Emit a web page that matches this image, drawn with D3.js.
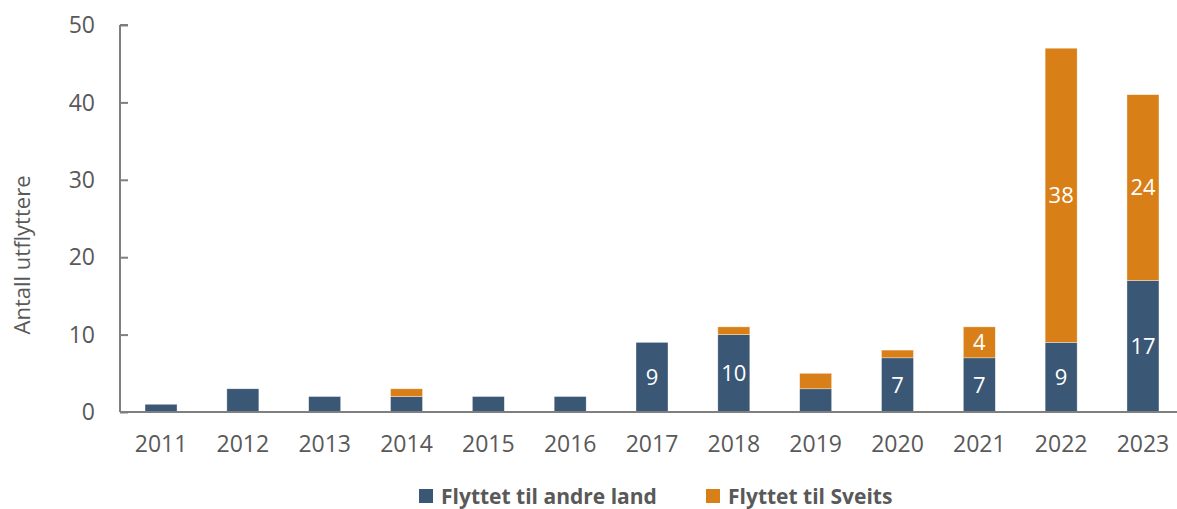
<!DOCTYPE html>
<html>
<head>
<meta charset="utf-8">
<script src="https://cdn.jsdelivr.net/npm/d3@7"></script>
<style>
  body { margin: 0; background: #fff; }
  #chartArea { width: 1177px; height: 509px; }
  text { font-family: "Open Sans", sans-serif; }
</style>
</head>
<body>
<div id="chartArea"></div>
<script>
// data
var years = ['2011','2012','2013','2014','2015','2016','2017','2018','2019','2020','2021','2022','2023'];
var andreLand = [1, 3, 2, 2, 2, 2, 9, 10, 3, 7, 7, 9, 17];
var sveits = [0, 0, 0, 1, 0, 0, 0, 1, 2, 1, 4, 38, 24];
var seriesNames = ['Flyttet til andre land', 'Flyttet til Sveits'];
var yTicks = [0, 10, 20, 30, 40, 50];

function chartStacked() {
    var width = 1177, height = 509;
    var margin = {top: 25, right: -7, bottom: 97, left: 120};
    var colors = ['#3a5775', '#d97f18'];
    var axisColor = '#7f7f7f';
    var textColor = '#595959';

    var svg = d3.select('#chartArea').append('svg')
        .attr('width', width)
        .attr('height', height);

    var xscale = d3.scaleBand().domain(years)
        .range([margin.left, width - margin.right])
        .paddingInner(0.609)
        .paddingOuter(0.306);
    var yscale = d3.scaleLinear().domain([0, 50]).range([height - margin.bottom, margin.top]);

    var rows = years.map(function(y, i) {
        return {year: y, andre: andreLand[i], sveits: sveits[i]};
    });
    var stack = d3.stack().keys(['andre', 'sveits'])(rows);

    // bars
    var layers = svg.append('g').selectAll('g').data(stack).enter().append('g')
        .attr('fill', function(d, i) { return colors[i]; });
    layers.selectAll('rect').data(function(d) { return d; }).enter()
        .filter(function(d) { return d[1] - d[0] > 0; })
        .append('rect')
        .attr('x', function(d) { return xscale(d.data.year); })
        .attr('width', xscale.bandwidth())
        .attr('y', function(d) { return yscale(d[1]); })
        .attr('height', function(d) { return yscale(d[0]) - yscale(d[1]); })
        .attr('stroke', '#ffffff')
        .attr('stroke-opacity', 0.6)
        .attr('stroke-width', 0.6);

    // value labels (only the bigger segments carry a label)
    layers.selectAll('text.val').data(function(d) { return d; }).enter()
        .filter(function(d) { return d[1] - d[0] >= 4; })
        .append('text')
        .attr('class', 'val')
        .attr('x', function(d) { return xscale(d.data.year) + xscale.bandwidth() / 2; })
        .attr('y', function(d) { return (yscale(d[0]) + yscale(d[1])) / 2; })
        .attr('dy', '0.36em')
        .attr('text-anchor', 'middle')
        .attr('fill', '#ffffff')
        .style('font-size', '22px')
        .text(function(d) { return d[1] - d[0]; });

    // y axis
    var yAxis = svg.append('g')
        .attr('transform', 'translate(' + margin.left + ',0)')
        .call(d3.axisRight(yscale).tickValues(yTicks).tickSize(8).tickFormat(''));
    yAxis.select('.domain').attr('stroke', axisColor).attr('stroke-width', 2)
        .attr('d', 'M0,' + yscale(50) + 'H8M0,' + yscale(50) + 'V' + yscale(0));
    yAxis.selectAll('.tick line').attr('stroke', axisColor).attr('stroke-width', 2);

    svg.append('g').selectAll('text').data(yTicks).enter().append('text')
        .attr('x', 95)
        .attr('y', function(d) { return yscale(d); })
        .attr('dy', '0.36em')
        .attr('text-anchor', 'end')
        .attr('fill', textColor)
        .style('font-size', '23px')
        .text(function(d) { return d; });

    // x axis
    var xAxis = svg.append('g')
        .attr('transform', 'translate(0,' + yscale(0) + ')')
        .call(d3.axisBottom(xscale).tickSize(0).tickPadding(24));
    xAxis.select('.domain').attr('stroke', axisColor).attr('stroke-width', 2)
        .attr('d', 'M' + margin.left + ',0H' + width);
    xAxis.selectAll('.tick text')
        .attr('fill', textColor)
        .style('font-family', '"Open Sans", sans-serif')
        .style('font-size', '23px');

    // y title
    svg.append('text')
        .attr('transform', 'translate(30,255) rotate(-90)')
        .attr('text-anchor', 'middle')
        .attr('fill', textColor)
        .style('font-size', '22px')
        .text('Antall utflyttere');

    // legend
    var legendX = [419, 706];
    var legend = svg.append('g').selectAll('g').data(seriesNames).enter().append('g')
        .attr('transform', function(d, i) { return 'translate(' + legendX[i] + ',489)'; });
    legend.append('rect')
        .attr('width', 14).attr('height', 14)
        .attr('fill', function(d, i) { return colors[i]; });
    legend.append('text')
        .attr('x', 22)
        .attr('y', 7)
        .attr('dy', '0.36em')
        .attr('fill', textColor)
        .style('font-size', '21px')
        .style('font-weight', 'bold')
        .text(function(d) { return d; });
}
chartStacked();
</script>
</body>
</html>
